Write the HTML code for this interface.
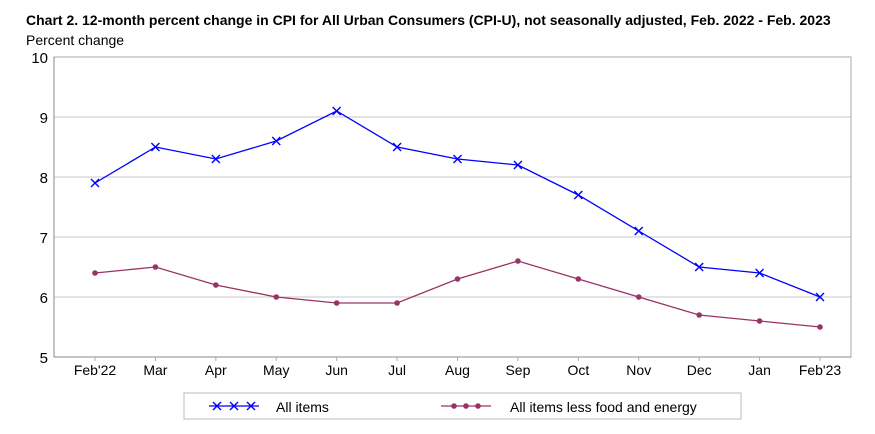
<!DOCTYPE html>
<html><head><meta charset="utf-8"><style>
body{margin:0;background:#fff;font-family:"Liberation Sans",Arial,sans-serif}
svg{display:block}
</style></head><body>
<svg width="875" height="434" id="c">
<text x="26" y="25" font-size="14" font-weight="bold">Chart 2. 12-month percent change in CPI for All Urban Consumers (CPI-U), not seasonally adjusted, Feb. 2022 - Feb. 2023</text>
<text x="26" y="45" font-size="14">Percent change</text>
<g id="grid"></g><g id="marks"></g>
<rect x="184" y="393" width="557" height="26" fill="none" stroke="#bbb"/>
<g>
<line x1="209" y1="406" x2="259" y2="406" stroke="#0000ff" stroke-width="1.3"/>
<text x="276" y="412" font-size="14">All items</text>
</g>
<g>
<line x1="441" y1="406" x2="491" y2="406" stroke="#993366" stroke-width="1.3"/>
<text x="510" y="412" font-size="14">All items less food and energy</text>
</g>
</svg>
<script>
const categories=["Feb'22","Mar","Apr","May","Jun","Jul","Aug","Sep","Oct","Nov","Dec","Jan","Feb'23"];
const allItems=[7.9,8.5,8.3,8.6,9.1,8.5,8.3,8.2,7.7,7.1,6.5,6.4,6.0];
const core=[6.4,6.5,6.2,6.0,5.9,5.9,6.3,6.6,6.3,6.0,5.7,5.6,5.5];
const yTicks=[5,6,7,8,9,10];
const NS="http://www.w3.org/2000/svg";
const L=54,R=851,T=57,B=357,ymin=5,ymax=10;
const x=i=>95+i*(820-95)/(categories.length-1);
const y=v=>B-(v-ymin)/(ymax-ymin)*(B-T);
function mk(tag,attrs,parent){const e=document.createElementNS(NS,tag);for(const k in attrs)e.setAttribute(k,attrs[k]);parent.appendChild(e);return e;}
const g=document.getElementById('grid'),m=document.getElementById('marks');
yTicks.forEach(t=>{
 if(t>ymin&&t<ymax){const l=mk('line',{x1:L,x2:R,y1:y(t),y2:y(t),stroke:'#c8c8c8'},g);}
 const tx=mk('text',{x:L-6,y:y(t)+6,'font-size':15,'text-anchor':'end'},g);tx.textContent=t;
 
});
const fr=mk('rect',{x:L,y:T,width:R-L,height:B-T,fill:'none',stroke:'#aaa'},g);

mk('line',{x1:L,x2:L,y1:T,y2:B,stroke:'#888'},g);mk('line',{x1:L,x2:R,y1:B,y2:B,stroke:'#888'},g);
categories.forEach((c,i)=>{
 mk('line',{x1:x(i),x2:x(i),y1:B,y2:B+4,stroke:'#aaa'},g);
 const tx=mk('text',{x:x(i),y:B+18,'font-size':14,'text-anchor':'middle'},g);tx.textContent=c;
 
});
function series(vals,col,name,marker){
 const p=mk('polyline',{points:vals.map((v,i)=>x(i)+','+y(v)).join(' '),fill:'none',stroke:col,'stroke-width':1.3},m);
 
 vals.forEach((v,i)=>{
  let e;
  if(marker==='x'){e=mk('path',{d:`M${x(i)-4},${y(v)-4}L${x(i)+4},${y(v)+4}M${x(i)-4},${y(v)+4}L${x(i)+4},${y(v)-4}`,stroke:col,'stroke-width':1.4},m);}
  else{e=mk('circle',{cx:x(i),cy:y(v),r:2.8,fill:col},m);}
  
 });
}
series(allItems,'#0000ff','all-items','x');
series(core,'#993366','core','o');
const svg=document.getElementById('c');
[217,234,251].forEach(cx=>{mk('path',{d:`M${cx-4},402L${cx+4},410M${cx-4},410L${cx+4},402`,stroke:'#0000ff','stroke-width':1.4},svg);});
[454,466,478].forEach(cx=>{mk('circle',{cx:cx,cy:406,r:2.8,fill:'#993366'},svg);});
</script>
</body></html>
